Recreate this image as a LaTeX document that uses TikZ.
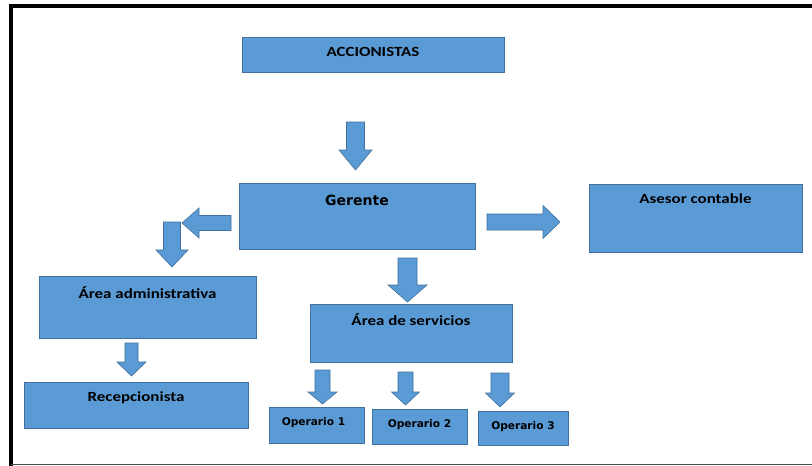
\documentclass[tikz,border=0pt]{standalone}
\usepackage{fontspec}
\setmainfont{Carlito}
\newfontfamily\widecal[FakeStretch=1.21]{Carlito}
\newfontfamily\dvs{DejaVu Sans}
\definecolor{boxblue}{HTML}{5B9BD5}
\definecolor{boxedge}{HTML}{41719C}
\tikzset{
  box/.style={draw=boxedge, fill=boxblue, line width=0.8pt, inner sep=0pt},
  lbl/.style={font=\widecal\bfseries\fontsize{14}{16}\selectfont, text=black, inner sep=0pt},
  olbl/.style={font=\dvs\bfseries\fontsize{10.6}{12}\selectfont, text=black, inner sep=0pt},
  blockarrow/.style={draw=boxedge, fill=boxblue, line width=0.6pt, line join=miter}
}
\newcommand{\downarr}[6]{% cx, top, base, tip, shaft half, head half
  \path[blockarrow] ({#1-#5},#2) -- ({#1+#5},#2) -- ({#1+#5},#3) -- ({#1+#6},#3)
    -- (#1,#4) -- ({#1-#6},#3) -- ({#1-#5},#3) -- cycle;}
\begin{document}
\begin{tikzpicture}[x=1pt,y=-1pt]
\useasboundingbox (0,0) rectangle (812,466);
\fill[white] (0,0) rectangle (812,466);
% frame
\draw[black, line width=4pt] (9.5,6) -- (812,6);
\draw[black, line width=3.5pt] (11,4) -- (11,466);
\draw[black!70, line width=1pt] (11,464.5) -- (812,464.5);
% boxes
\node (acc) [box, minimum width=262pt, minimum height=35pt] at (373,54.5) {};
\node[lbl] at (373,52) {ACCIONISTAS};
\node (ger) [box, minimum width=236pt, minimum height=66pt] at (357,216) {};
\node[font=\dvs\bfseries\fontsize{14}{16}\selectfont, inner sep=0pt] at (357,200) {Gerente};
\node (ase) [box, minimum width=213pt, minimum height=68pt] at (695.5,218) {};
\node[lbl] at (695.5,199) {Asesor contable};
\node (adm) [box, minimum width=217pt, minimum height=62pt] at (147.5,307) {};
\node[lbl] at (147.5,293) {Área administrativa};
\node (rec) [box, minimum width=224pt, minimum height=46pt] at (136,405) {};
\node[lbl] at (136,398) {Recepcionista};
\node (ser) [box, minimum width=202pt, minimum height=58pt] at (411,333) {};
\node[lbl] at (411,320) {Área de servicios};
\node (op1) [box, minimum width=95pt, minimum height=36pt] at (316.5,425) {};
\node[olbl] at (313.5,423) {Operario 1};
\node (op2) [box, minimum width=95pt, minimum height=35pt] at (419.5,426.5) {};
\node[olbl] at (419.5,425) {Operario 2};
\node (op3) [box, minimum width=90pt, minimum height=34pt] at (523,428) {};
\node[olbl] at (523,427) {Operario 3};
% block arrows
\downarr{355.5}{122}{150}{170}{9}{16.5}
\downarr{407.5}{258}{285}{302}{9.5}{19.5}
\downarr{172}{222}{250}{267}{8.5}{16}
\downarr{131.5}{343}{362}{376}{6.5}{14.5}
\downarr{322.5}{370}{392}{404}{7.5}{14.5}
\downarr{405.5}{372}{392}{405}{7.5}{14}
\downarr{500}{373}{393}{407}{9}{14.5}
% left arrow
\path[blockarrow] (231,215.5) -- (199,215.5) -- (199,208) -- (182,223) -- (199,238)
  -- (199,230.5) -- (231,230.5) -- cycle;
% right arrow
\path[blockarrow] (487,214) -- (543,214) -- (543,205.5) -- (560,222) -- (543,238.5)
  -- (543,230) -- (487,230) -- cycle;
\end{tikzpicture}
\end{document}
